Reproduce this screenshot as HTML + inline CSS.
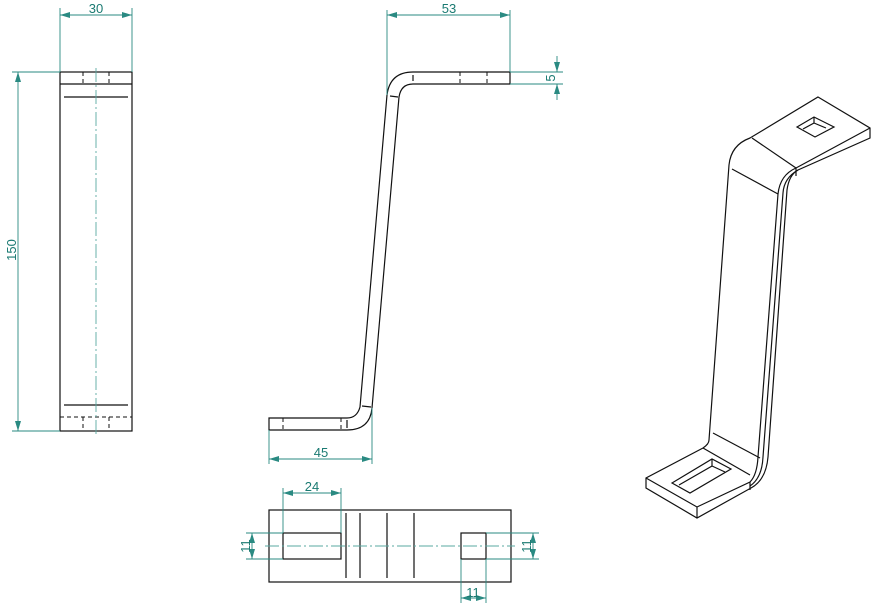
<!DOCTYPE html>
<html><head><meta charset="utf-8"><style>
html,body{margin:0;padding:0;background:#fff;}
svg{display:block;}
text{font-family:"Liberation Sans",sans-serif;font-size:13px;fill:#1a7a72;}
.k{stroke:#111;stroke-width:1.2;fill:none;}
.d{stroke:#111;stroke-width:1;fill:none;stroke-dasharray:4 3;}
.g{stroke:#2a8a82;stroke-width:0.9;fill:none;}
.c{stroke:#5aa8a2;stroke-width:0.9;fill:none;stroke-dasharray:14 3 2 3;}
</style></head><body>
<svg width="872" height="605" viewBox="0 0 872 605">
<defs>
<marker id="a" viewBox="0 0 10 6" refX="10" refY="3" markerWidth="10" markerHeight="6" orient="auto-start-reverse" markerUnits="userSpaceOnUse"><path d="M0,0L10,3L0,6z" fill="#2a8a82"/></marker>
</defs>
<!-- Left view -->
<rect x="60" y="72" width="72" height="359" class="k"/>
<line x1="60" y1="84" x2="132" y2="84" class="k"/>
<line x1="64" y1="97" x2="128" y2="97" class="k"/>
<line x1="64" y1="405" x2="128" y2="405" class="k"/>
<line x1="60" y1="417" x2="132" y2="417" class="d"/>
<line x1="83" y1="72" x2="83" y2="84" class="d"/><line x1="109" y1="72" x2="109" y2="84" class="d"/>
<line x1="83" y1="417" x2="83" y2="431" class="d"/><line x1="109" y1="417" x2="109" y2="431" class="d"/>
<line x1="96" y1="68" x2="96" y2="436" class="c"/>
<line x1="60" y1="8" x2="60" y2="72" class="g"/><line x1="132" y1="8" x2="132" y2="72" class="g"/>
<line x1="60" y1="15" x2="132" y2="15" class="g" marker-start="url(#a)" marker-end="url(#a)"/>
<text x="96" y="13" text-anchor="middle">30</text>
<line x1="12" y1="72" x2="60" y2="72" class="g"/><line x1="12" y1="431" x2="60" y2="431" class="g"/>
<line x1="18" y1="72" x2="18" y2="431" class="g" marker-start="url(#a)" marker-end="url(#a)"/>
<text x="0" y="0" text-anchor="middle" transform="translate(16,250) rotate(-90)">150</text>
<!-- Middle side view -->
<path class="k" d="M510,72 L413,72 Q390,72 387,95 L360,407 Q357,418 347,418 L269,418 L269,430 L347,430 Q370,430 372,408 L399,97 Q401,84 413,84 L510,84 Z"/>
<line x1="413" y1="75" x2="413" y2="81" class="k" stroke-width="1"/>
<line x1="390" y1="96" x2="398" y2="97" class="k" stroke-width="1"/>
<line x1="362" y1="406" x2="371" y2="407" class="k" stroke-width="1"/>
<line x1="347" y1="420" x2="347" y2="428" class="k" stroke-width="1"/>
<line x1="460" y1="72" x2="460" y2="84" class="d"/><line x1="487" y1="72" x2="487" y2="84" class="d"/>
<line x1="283" y1="418" x2="283" y2="430" class="d"/><line x1="341" y1="418" x2="341" y2="430" class="d"/>
<line x1="387" y1="10" x2="387" y2="95" class="g"/><line x1="510" y1="10" x2="510" y2="72" class="g"/>
<line x1="387" y1="15" x2="510" y2="15" class="g" marker-start="url(#a)" marker-end="url(#a)"/>
<text x="449" y="13" text-anchor="middle">53</text>
<line x1="510" y1="72" x2="563" y2="72" class="g"/><line x1="510" y1="84" x2="563" y2="84" class="g"/>
<line x1="557" y1="56" x2="557" y2="72" class="g" marker-end="url(#a)"/>
<line x1="557" y1="100" x2="557" y2="84" class="g" marker-end="url(#a)"/>
<text x="0" y="0" text-anchor="middle" transform="translate(555,78) rotate(-90)">5</text>
<line x1="269" y1="430" x2="269" y2="464" class="g"/><line x1="372" y1="408" x2="372" y2="464" class="g"/>
<line x1="269" y1="459" x2="372" y2="459" class="g" marker-start="url(#a)" marker-end="url(#a)"/>
<text x="321" y="457" text-anchor="middle">45</text>
<!-- Bottom view -->
<rect x="269" y="510" width="242" height="72" class="k"/>
<rect x="283" y="533" width="58" height="26" class="k"/>
<rect x="461" y="533" width="25" height="26" class="k"/>
<line x1="346" y1="513" x2="346" y2="578" class="k" stroke-width="1"/>
<line x1="360" y1="513" x2="360" y2="578" class="k" stroke-width="1"/>
<line x1="387" y1="513" x2="387" y2="578" class="k" stroke-width="1"/>
<line x1="414" y1="513" x2="414" y2="578" class="k" stroke-width="1"/>
<line x1="265" y1="546" x2="515" y2="546" class="c"/>
<line x1="283" y1="488" x2="283" y2="533" class="g"/><line x1="341" y1="488" x2="341" y2="533" class="g"/>
<line x1="283" y1="493" x2="341" y2="493" class="g" marker-start="url(#a)" marker-end="url(#a)"/>
<text x="312" y="491" text-anchor="middle">24</text>
<line x1="246" y1="533" x2="283" y2="533" class="g"/><line x1="246" y1="559" x2="283" y2="559" class="g"/>
<line x1="252" y1="533" x2="252" y2="559" class="g" marker-start="url(#a)" marker-end="url(#a)"/>
<text x="0" y="0" text-anchor="middle" transform="translate(250,546) rotate(-90)">11</text>
<line x1="486" y1="533" x2="539" y2="533" class="g"/><line x1="486" y1="559" x2="539" y2="559" class="g"/>
<line x1="533" y1="533" x2="533" y2="559" class="g" marker-start="url(#a)" marker-end="url(#a)"/>
<text x="0" y="0" text-anchor="middle" transform="translate(531,546) rotate(-90)">11</text>
<line x1="461" y1="559" x2="461" y2="603" class="g"/><line x1="486" y1="559" x2="486" y2="603" class="g"/>
<line x1="461" y1="598" x2="486" y2="598" class="g" marker-start="url(#a)" marker-end="url(#a)"/>
<text x="473" y="597" text-anchor="middle">11</text>
<!-- Isometric -->
<g class="k" stroke-width="1.1">
<path d="M818,97 L870,128 L870,138 L798,170 Q789,175 787,190 L768,457 Q766,480 751,488 L697,518 L646,488 L646,478 L703,448 Q709,444 709,440 L729,165 Q731,145 750,138 Z"/>
<path d="M870,128 L796,168 Q780,175 778,194 L758,457 Q757,475 750,482 L697,507 L646,478"/>
<line x1="697" y1="507" x2="697" y2="518"/>
<path d="M798,170 Q784,178 783,193 L763,457 Q762,478 750,486"/>
<line x1="796" y1="168" x2="796" y2="176"/>
<line x1="752" y1="138" x2="796" y2="168"/>
<line x1="732" y1="169" x2="778" y2="194"/>
<line x1="713" y1="433" x2="760" y2="458"/>
<line x1="703" y1="448" x2="750" y2="475"/>
<line x1="750" y1="482" x2="750" y2="490"/>
<path d="M797,127 L814,117 L834,127 L815,137 Z"/>
<path d="M814,117 L814,123 L803,129 M814,123 L826,128"/>
<path d="M672,483 L712,459 L731,469 L690,493 Z"/>
<path d="M712,459 L712,466 L679,485 M712,466 L725,472"/>
</g>
</svg>
</body></html>
